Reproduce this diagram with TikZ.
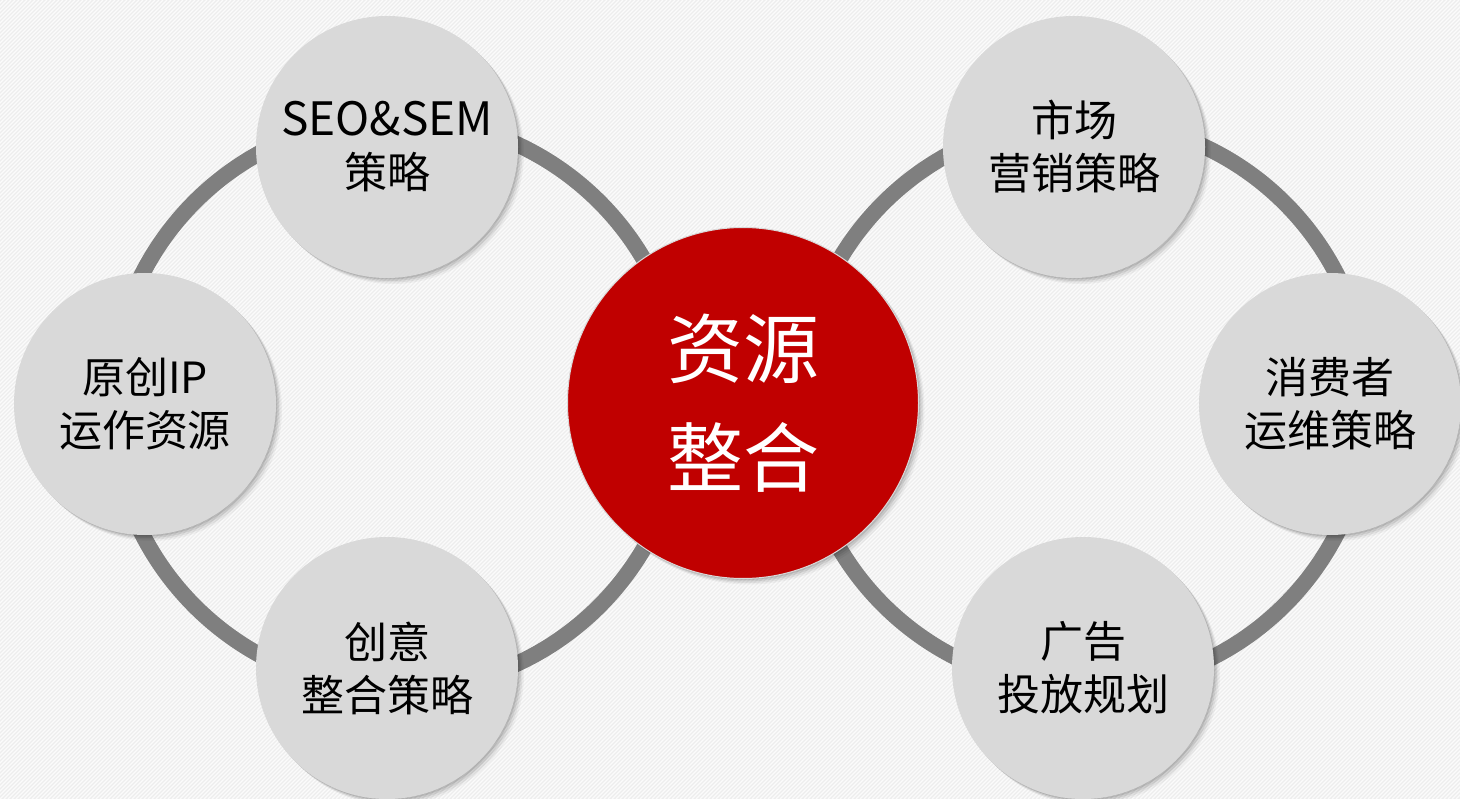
\documentclass[tikz,border=0pt]{standalone}
\usepackage{fontspec}
\setmainfont{Noto Sans CJK SC}
\usetikzlibrary{shadows}
\definecolor{bgbase}{HTML}{EDEDED}
\definecolor{ringgray}{HTML}{7F7F7F}
\definecolor{bubble}{HTML}{D9D9D9}
\definecolor{hubred}{HTML}{C00000}
\tikzset{
  softshadow/.style={
    drop shadow={shadow xshift=1.5pt, shadow yshift=-1.5pt, opacity=0.10, fill=black},
    drop shadow={shadow xshift=3pt, shadow yshift=-3pt, opacity=0.08, fill=black},
    drop shadow={shadow xshift=4.5pt, shadow yshift=-4.5pt, opacity=0.06, fill=black},
    drop shadow={shadow xshift=6pt, shadow yshift=-6pt, opacity=0.04, fill=black}},
  bubblenode/.style={circle, fill=bubble, minimum size=262pt, inner sep=0pt,
    align=center, font=\fontsize{43}{53}\selectfont, text=black, softshadow},
  hubnode/.style={circle, fill=hubred, draw=white!85!black, line width=1pt,
    minimum size=351pt, inner sep=0pt, align=center,
    font=\fontsize{76}{109}\selectfont, text=white, softshadow},
  ringline/.style={draw=ringgray, line width=16pt},
  stripe/.style={draw=white, line width=1.3pt, opacity=0.8}
}
\begin{document}
\begin{tikzpicture}[x=1pt, y=-1pt]
  \path[use as bounding box] (0,0) rectangle (1460,799);
  \fill[bgbase] (0,0) rectangle (1460,799);
  \begin{scope}
    \clip (0,0) rectangle (1460,799);
    \foreach \x in {-800,-796,...,1460} \draw[stripe] (\x,799) -- ++(799,-799);
  \end{scope}

  % ring centres
  \coordinate (lring) at (397,404);
  \coordinate (rring) at (1084,404);
  \draw[ringline] (lring) circle[radius=286pt];
  \draw[ringline] (rring) circle[radius=284pt];

  % satellites
  \node[bubblenode] (seo) at (387,147) {{\fontsize{46}{53}\selectfont SEO\&SEM}\\策略};
  \node[bubblenode] (ip)  at (145,404) {原创IP\\运作资源};
  \node[bubblenode] (cy)  at (387,668) {创意\\整合策略};
  \node[bubblenode] (sc)  at (1074,147) {市场\\营销策略};
  \node[bubblenode] (xf)  at (1330,404) {消费者\\运维策略};
  \node[bubblenode] (gg)  at (1083,668) {广告\\投放规划};

  % hub
  \node[hubnode] (hub) at (743,403) {资源\\整合};
\end{tikzpicture}
\end{document}
